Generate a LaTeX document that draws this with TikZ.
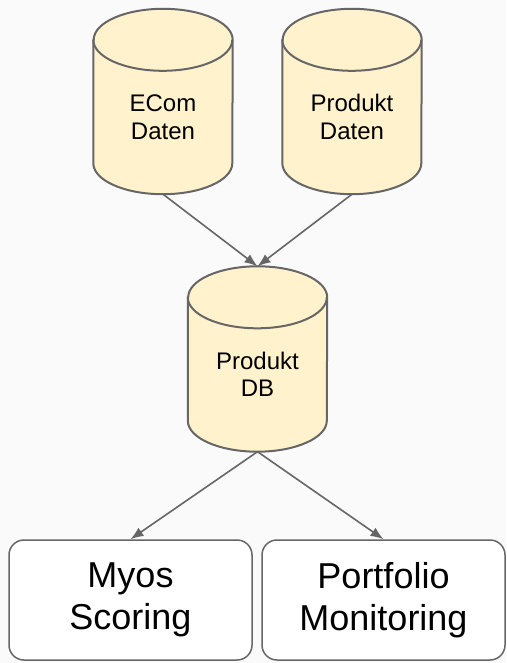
\documentclass[tikz,border=0pt]{standalone}
\usepackage{fontspec}
\setmainfont{Liberation Sans}
\usetikzlibrary{arrows.meta,backgrounds}
\definecolor{dbfill}{HTML}{FFF2CC}
\definecolor{edgegray}{HTML}{666666}
\definecolor{bggray}{HTML}{FAFAFA}
\begin{document}
\begin{tikzpicture}[x=1pt,y=-1pt]
  \tikzstyle{store}=[minimum width=139pt, minimum height=154pt, inner sep=0pt, align=center, font=\fontsize{24}{27.6}\selectfont]
  \tikzstyle{drum}=[draw=edgegray, line width=2pt, fill=dbfill]
  \tikzstyle{usecase}=[draw=edgegray, line width=1.5pt, fill=white, rounded corners=15pt, minimum width=243pt, minimum height=120pt, align=center, font=\fontsize{36}{41.4}\selectfont]
  \tikzstyle{arrow}=[-{Latex[length=13pt,width=10pt]}, line width=1.6pt, draw=edgegray, fill=edgegray]

  \useasboundingbox (0,0) rectangle (506,663);

  % stores: body node, cylinder drawn behind
  \node[store] (ecom) at (163,117) {ECom\\Daten};
  \node[store] (prod) at (352,117) {Produkt\\Daten};
  \node[store] (db) at (257.5,374.5) {Produkt\\DB};

  \begin{scope}[on background layer]
    \fill[bggray] (0,0) rectangle (506,663);
    \foreach \n in {ecom,prod,db} {
      \draw[drum] (\n.north west) -- ([yshift=31pt]\n.south west)
        arc[start angle=180, end angle=360, x radius=69.5pt, y radius=31pt]
        -- (\n.north east)
        arc[start angle=0, end angle=180, x radius=69.5pt, y radius=31pt] -- cycle;
      \draw[drum, fill=none] (\n.north west)
        arc[start angle=180, end angle=360, x radius=69.5pt, y radius=31pt];
    }
  \end{scope}

  \node[usecase] (myos) at (130.5,600) {Myos\\Scoring};
  \node[usecase] (port) at (383.5,600) {Portfolio\\Monitoring};

  \draw[arrow] (ecom.south) -- ([yshift=31pt]db.north);
  \draw[arrow] (prod.south) -- ([yshift=31pt]db.north);
  \draw[arrow] (db.south) -- (myos.north);
  \draw[arrow] (db.south) -- (port.north);
\end{tikzpicture}
\end{document}
